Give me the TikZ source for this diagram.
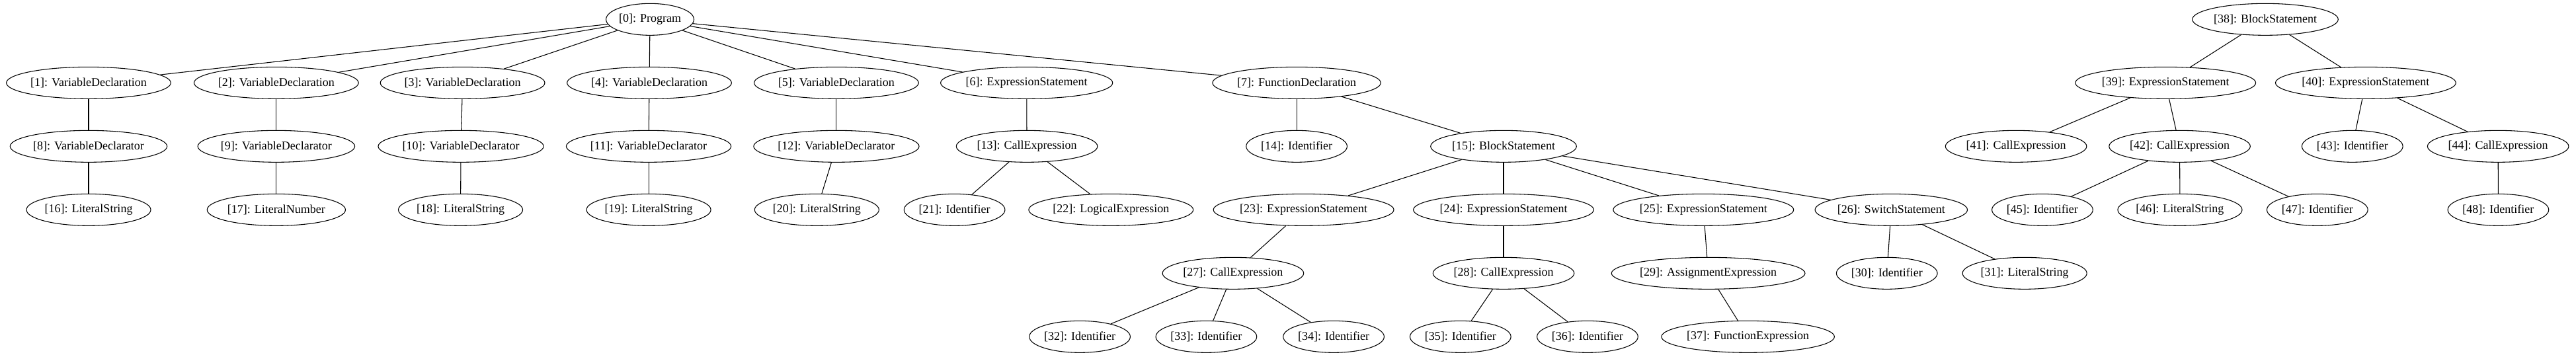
\documentclass[tikz,border=0pt]{standalone}
\usepackage{fontspec}
\setmainfont{Liberation Serif}
\usetikzlibrary{shapes.geometric}
\newlength\gvw
\newcommand\gvfont{\fontsize{13.5}{16}\selectfont}
\tikzset{
  gvnode/.style={ellipse,draw,line width=0.8pt,inner sep=0pt,minimum height=36pt,font=\gvfont},
  gvedge/.style={line width=0.8pt}
}
\newcommand\gvn[4]{%
  \setbox0\hbox{\gvfont #4}%
  \pgfmathsetlength\gvw{1.272*\wd0+25.3pt}%
  \node[gvnode,minimum width=\gvw] (#1) at (#2pt,-#3pt) {#4};}
\begin{document}
\begin{tikzpicture}
\fill[white] (0,0) rectangle (2922pt,-404.25pt);
\useasboundingbox (0,0) rectangle (2922pt,-404.25pt);
% row 0
\gvn{n0}{737.3}{22}{[0]: Program}
\gvn{n38}{2569.5}{22}{[38]: BlockStatement}
% row 1
\gvn{n1}{100.5}{94}{[1]: VariableDeclaration}
\gvn{n2}{313.4}{94}{[2]: VariableDeclaration}
\gvn{n3}{524.7}{94}{[3]: VariableDeclaration}
\gvn{n4}{736.5}{94}{[4]: VariableDeclaration}
\gvn{n5}{948.7}{94}{[5]: VariableDeclaration}
\gvn{n6}{1164.5}{94}{[6]: ExpressionStatement}
\gvn{n7}{1470.8}{94}{[7]: FunctionDeclaration}
\gvn{n39}{2456.4}{94}{[39]: ExpressionStatement}
\gvn{n40}{2683.4}{94}{[40]: ExpressionStatement}
% row 2
\gvn{n8}{100.5}{166}{[8]: VariableDeclarator}
\gvn{n9}{313.4}{166}{[9]: VariableDeclarator}
\gvn{n10}{522.8}{166}{[10]: VariableDeclarator}
\gvn{n11}{735.8}{166}{[11]: VariableDeclarator}
\gvn{n12}{948.7}{166}{[12]: VariableDeclarator}
\gvn{n13}{1164.8}{166}{[13]: CallExpression}
\gvn{n14}{1470.8}{166}{[14]: Identifier}
\gvn{n15}{1705.5}{166}{[15]: BlockStatement}
\gvn{n41}{2286.8}{166}{[41]: CallExpression}
\gvn{n42}{2472.4}{166}{[42]: CallExpression}
\gvn{n43}{2668.3}{166}{[43]: Identifier}
\gvn{n44}{2833.6}{166}{[44]: CallExpression}
% row 3
\gvn{n16}{100.5}{238}{[16]: LiteralString}
\gvn{n17}{313.4}{238}{[17]: LiteralNumber}
\gvn{n18}{522.4}{238}{[18]: LiteralString}
\gvn{n19}{735.8}{238}{[19]: LiteralString}
\gvn{n20}{926.5}{238}{[20]: LiteralString}
\gvn{n21}{1082.7}{238}{[21]: Identifier}
\gvn{n22}{1260.2}{238}{[22]: LogicalExpression}
\gvn{n23}{1478.7}{238}{[23]: ExpressionStatement}
\gvn{n24}{1705.5}{238}{[24]: ExpressionStatement}
\gvn{n25}{1932.2}{238}{[25]: ExpressionStatement}
\gvn{n26}{2145.2}{238}{[26]: SwitchStatement}
\gvn{n45}{2316.7}{238}{[45]: Identifier}
\gvn{n46}{2472.7}{238}{[46]: LiteralString}
\gvn{n47}{2628.6}{238}{[47]: Identifier}
\gvn{n48}{2833.8}{238}{[48]: Identifier}
% row 4
\gvn{n27}{1398.7}{310}{[27]: CallExpression}
\gvn{n28}{1705.5}{310}{[28]: CallExpression}
\gvn{n29}{1937.7}{310}{[29]: AssignmentExpression}
\gvn{n30}{2140.3}{310}{[30]: Identifier}
\gvn{n31}{2296.6}{310}{[31]: LiteralString}
% row 5
\gvn{n32}{1224.8}{382}{[32]: Identifier}
\gvn{n33}{1368.3}{382}{[33]: Identifier}
\gvn{n34}{1512.8}{382}{[34]: Identifier}
\gvn{n35}{1656.6}{382}{[35]: Identifier}
\gvn{n36}{1800.7}{382}{[36]: Identifier}
\gvn{n37}{1982.7}{382}{[37]: FunctionExpression}
% edges
\foreach \a/\b in {n0/n1,n0/n2,n0/n3,n0/n4,n0/n5,n0/n6,n0/n7,
  n1/n8,n2/n9,n3/n10,n4/n11,n5/n12,n6/n13,n7/n14,n7/n15,
  n8/n16,n9/n17,n10/n18,n11/n19,n12/n20,n13/n21,n13/n22,
  n15/n23,n15/n24,n15/n25,n15/n26,
  n23/n27,n24/n28,n25/n29,n26/n30,n26/n31,
  n27/n32,n27/n33,n27/n34,n28/n35,n28/n36,n29/n37,
  n38/n39,n38/n40,n39/n41,n39/n42,n40/n43,n40/n44,
  n42/n45,n42/n46,n42/n47,n44/n48}
  \draw[gvedge] (\a) -- (\b);
\end{tikzpicture}
\end{document}
